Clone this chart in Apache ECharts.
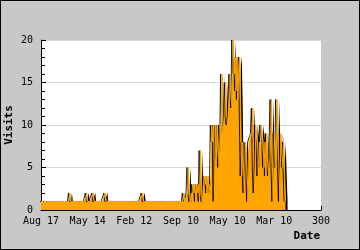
<!DOCTYPE html>
<html><head><meta charset="utf-8">
<script src="https://cdn.jsdelivr.net/npm/echarts@6/dist/echarts.min.js"></script>
<style>html,body{margin:0;padding:0;background:#c8c8c8}#c{width:360px;height:250px}</style>
</head><body><div id="c"></div>
<script>
const xTickLabels = ["Aug 17","May 14","Feb 12","Sep 10","May 10","Mar 10","300"];
const yTicks = [0,5,10,15,20];
// visits per day (index = day number)
const earlyVisits = [
1,1,1,1,1,1,1,1,1,1, 1,1,1,1,1,1,1,1,1,1, 1,1,1,1,1,1,1,1,1,1,
1,2,1,1,1,1,1,1,1,1, 1,1,1,1,1,1,1,1,1,2, 1,1,1,1,1,1,2,1,1,1,
1,1,1,1,1,1,1,1,1,2, 1,1,1,1,1,1,1,1,1,1, 1,1,1,1,1,1,1,1,1,1,
1,1,1,1,1,1,1,1,1,1, 1,1,1,1,1,1,1,1,1,2, 1,1,1,1,1,1,1,1,1,1,
1,1,1,1,1,1,1,1,1,1, 1,1,1,1,1,1,1,1,1,1, 1,1,1,1,1,1,1,1,1,1,
1,1
];
const lateVisits = [
1,2,1,1,1,2,5,2,1,2, 1,3,2,3,1,3,2,3,1,7, 2,1,3,4,3,4,2,4,2,3,
2,10,8,10,1,10,6,10,7,5, 10,7,16,9,10,11,15,11,10,12,
13,16,13,12,20,16,18,14,18,13, 17,18,12,4,8,8,2,8,7,7,
1,8,8,8,9,12,5,2,10,10, 8,4,8,5,10,10,8,5,8,4,
9,9,4,5,8,13,5,1,9,9, 5,13,9,5,1,9,9,5,8,8, 1
];
const visits = earlyVisits.concat(lateVisits);
const seriesData = visits.map((v,i)=>[i,v]);

const chart = echarts.init(document.getElementById('c'), null, {renderer:'canvas'});
const font = 'DejaVu Sans Mono';
chart.setOption({
  backgroundColor:'#c8c8c8',
  animation:false,
  graphic:[{type:'rect', shape:{x:0.5,y:0.5,width:359,height:249}, style:{fill:'none',stroke:'#000',lineWidth:1}, z:100}],
  grid:{left:41,right:39,top:40,bottom:40,show:true,backgroundColor:'#fff',borderWidth:0,containLabel:false,outerBoundsMode:'none'},
  xAxis:{
    type:'value', min:0, max:300, interval:50,
    name:'Date', nameLocation:'end', nameGap:-1, nameMoveOverlap:false,
    nameTextStyle:{fontFamily:font,fontSize:11,fontWeight:'bold',color:'#000',align:'right',verticalAlign:'top',padding:[21,0,0,0]},
    axisLine:{show:true,lineStyle:{color:'#000',width:1}},
    axisTick:{show:true,inside:true,length:4,lineStyle:{color:'#000'}},
    axisLabel:{fontFamily:font,fontSize:10,color:'#000',margin:6,
      formatter:(v)=>xTickLabels[Math.round(v/50)]},
    splitLine:{show:false}
  },
  yAxis:{
    type:'value', min:yTicks[0], max:yTicks[yTicks.length-1], interval:5,
    name:'Visits', nameLocation:'middle', nameGap:26, nameRotate:90, nameMoveOverlap:false,
    nameTextStyle:{fontFamily:font,fontSize:11,fontWeight:'bold',color:'#000'},
    axisLine:{show:true,lineStyle:{color:'#000',width:1}},
    axisTick:{show:true,inside:true,length:5,lineStyle:{color:'#000'}},
    minorTick:{show:true,splitNumber:5,length:4,lineStyle:{color:'#000'}},
    axisLabel:{fontFamily:font,fontSize:10,color:'#000',margin:8},
    splitLine:{show:true,lineStyle:{color:'#d8d8d8',width:1}}
  },
  series:[{
    type:'line', data:seriesData, showSymbol:false, symbol:'none',
    lineStyle:{width:1,color:'#ffa500',shadowColor:'rgba(0,0,0,0.85)',shadowBlur:0,shadowOffsetX:-1.5,shadowOffsetY:0},
    areaStyle:{color:'#ffa500',opacity:1,shadowColor:'#000',shadowBlur:0.5,shadowOffsetX:2,shadowOffsetY:0},
    z:2
  }]
});
</script></body></html>
